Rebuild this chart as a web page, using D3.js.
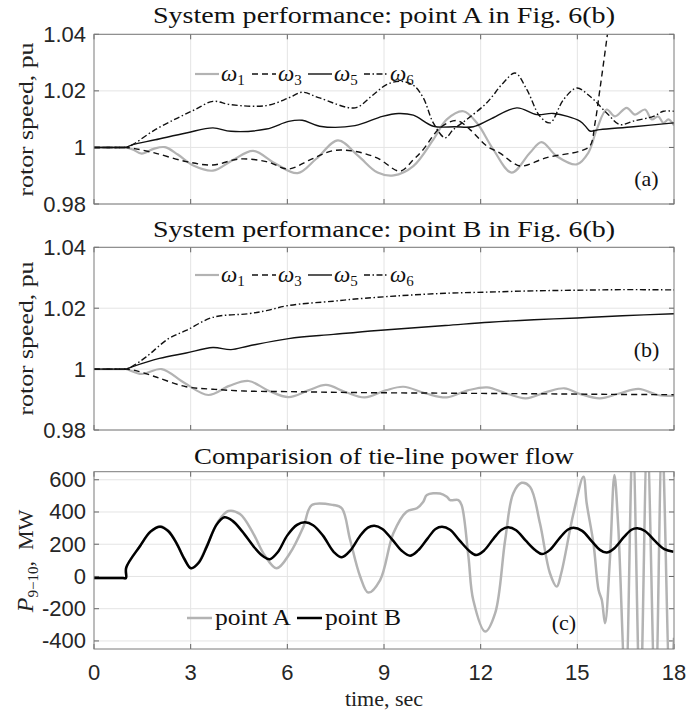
<!DOCTYPE html>
<html>
<head>
<meta charset="utf-8">
<script src="https://cdn.jsdelivr.net/npm/d3@7"></script>
<style>
  body { margin: 0; background: #fff; }
</style>
</head>
<body>
<div id="chart"></div>
<script>
// ---- data ----
const timeTicks = [0, 3, 6, 9, 12, 15, 18];
const speedTicks = [0.98, 1, 1.02, 1.04];
const speedTickLabels = ['0.98', '1', '1.02', '1.04'];
const powerTicks = [-400, -200, 0, 200, 400, 600];

// panel (a): point A, rotor speeds [t, pu]
const a_w1 = [[0,1],[0.9,1],[1,1],[1.2,0.9993],[1.48,0.9978],[1.85,0.9995],[2.2,1.0001],[2.6,0.9975],[3.1,0.9935],[3.69,0.9918],[4.3,0.9955],[4.94,0.9988],[5.6,0.9945],[6.32,0.9909],[6.9,0.996],[7.57,1.0025],[8.2,0.997],[8.8,0.9911],[9.3,0.9901],[9.91,0.9934],[10.53,1.0028],[10.95,1.0099],[11.46,1.0128],[11.88,1.0087],[12.39,0.9993],[12.96,0.9911],[13.53,0.9981],[13.89,1.0019],[14.36,0.9969],[14.98,0.994],[15.34,0.9981],[15.6,1.0063],[15.91,1.0134],[16.17,1.011],[16.53,1.014],[16.79,1.0116],[17.1,1.0134],[17.31,1.0099],[17.51,1.011],[17.67,1.0087],[17.83,1.0099],[18,1.0078]];
const a_w3 = [[0,1],[0.9,1],[1,1],[1.3,0.9995],[1.9,0.998],[2.86,0.995],[3.69,0.9938],[4.5,0.9959],[5.35,0.995],[6.04,0.9924],[6.7,0.9956],[7.43,0.9989],[8.1,0.9986],[8.8,0.9962],[9.5,0.9916],[9.9,0.9955],[10.22,0.9993],[10.74,1.0069],[11.26,1.0095],[11.67,1.0063],[12.19,1.0005],[12.6,0.998],[13.0,0.9946],[13.27,0.9934],[14.05,0.9964],[15.08,0.9987],[15.39,1.0005],[15.55,1.0087],[15.7,1.0205],[15.91,1.038],[16.05,1.05]];
const a_w5 = [[0,1],[0.9,1],[1,1],[1.2,1.001],[1.9,1.0027],[2.86,1.0051],[3.69,1.0069],[4.25,1.0057],[5.35,1.0065],[6.04,1.0092],[6.46,1.0096],[7.0,1.0075],[8.1,1.0077],[8.95,1.011],[9.45,1.012],[9.91,1.0114],[10.53,1.0075],[11.2,1.0073],[11.77,1.0073],[12.29,1.0099],[13.12,1.014],[13.74,1.0116],[14.26,1.012],[15.08,1.0093],[15.29,1.007],[15.39,1.0058],[15.7,1.0063],[16.74,1.0073],[18,1.0087]];
const a_w6 = [[0,1],[0.9,1],[1,1],[1.2,1.001],[1.9,1.0063],[2.59,1.0104],[3.14,1.0134],[3.69,1.0163],[4.25,1.0151],[5.35,1.0148],[6.04,1.0175],[6.46,1.0195],[7.0,1.0175],[8.1,1.014],[8.6,1.018],[9.08,1.0222],[9.5,1.0234],[9.91,1.022],[10.22,1.0175],[10.53,1.0087],[10.9,1.0034],[11.15,1.0063],[11.57,1.0099],[12.19,1.0158],[12.7,1.0228],[13.07,1.0263],[13.43,1.0205],[13.84,1.011],[14.15,1.0087],[14.57,1.0169],[14.98,1.021],[15.39,1.0181],[15.91,1.0122],[16.32,1.0081],[16.74,1.0093],[17.36,1.011],[17.67,1.0128],[18,1.0128]];

// panel (b): point B, rotor speeds [t, pu]
const b_w1 = [[0,1],[0.9,1],[1,1],[1.48,0.9984],[2.1,1.0],[2.8,0.9955],[3.55,0.9915],[4.2,0.9945],[4.8,0.9961],[5.4,0.993],[6.04,0.9908],[6.65,0.993],[7.2,0.9948],[7.8,0.9925],[8.4,0.9907],[9.05,0.993],[9.6,0.9942],[10.3,0.992],[10.95,0.9907],[11.6,0.993],[12.2,0.994],[12.8,0.992],[13.4,0.9904],[14.05,0.9925],[14.6,0.9937],[15.1,0.9918],[15.7,0.9904],[16.3,0.992],[16.9,0.9935],[17.5,0.9915],[18,0.9912]];
const b_w3 = [[0,1],[0.9,1],[1,1],[1.3,0.9995],[1.9,0.9975],[2.86,0.9942],[3.69,0.9934],[4.66,0.9928],[6.04,0.9926],[8.1,0.9923],[10.9,0.9921],[13.65,0.9919],[16,0.9917],[18,0.9916]];
const b_w5 = [[0,1],[0.9,1],[1,1],[1.2,1.0008],[2.03,1.0035],[2.86,1.0053],[3.69,1.0071],[4.25,1.0064],[4.8,1.0076],[6.04,1.01],[7.43,1.0114],[8.8,1.0127],[10.9,1.0143],[12.27,1.0154],[13.65,1.0162],[15.0,1.0168],[16.4,1.0175],[18,1.0182]];
const b_w6 = [[0,1],[0.9,1],[1,1],[1.2,1.001],[1.62,1.004],[2.31,1.01],[2.86,1.0127],[3.69,1.017],[4.8,1.0182],[5.35,1.0192],[6.04,1.0209],[7.43,1.0223],[8.1,1.023],[9.5,1.0241],[10.9,1.0249],[12.27,1.0253],[13.65,1.0257],[15.0,1.0259],[16.4,1.0261],[18,1.026]];

// panel (c): tie-line power flow [t, MW]
const c_pointA = [[0,-10],[0.9,-10],[0.99,-10],[1.0,55],[1.43,189],[1.75,275],[2.05,312],[2.3,285],[2.55,212],[2.8,112],[3.01,51],[3.25,90],[3.5,190],[3.85,340],[4.17,406],[4.53,387],[4.94,268],[5.3,130],[5.67,51],[6.08,144],[6.5,309],[6.76,443],[7.43,443],[7.69,423],[7.95,226],[8.26,0],[8.51,-100],[8.88,-22],[9.29,268],[9.7,402],[10.02,423],[10.22,464],[10.33,505],[10.74,515],[10.95,495],[11.05,474],[11.31,474],[11.41,443],[11.62,123],[11.77,-146],[12.14,-342],[12.45,-228],[12.76,226],[13.01,515],[13.27,581],[13.53,557],[13.84,330],[14.15,20],[14.36,-63],[14.5,20],[14.88,392],[15.19,619],[15.29,454],[15.5,206],[15.66,-84],[15.76,-146],[15.86,-290],[16.01,102],[16.15,629],[16.27,309],[16.5,-700],[16.72,850],[16.95,-800],[17.17,850],[17.42,-800],[17.63,850],[17.88,-700],[18,-380]];
const c_pointB = [[0,-10],[0.9,-10],[0.99,-10],[1.0,55],[1.43,189],[1.75,278],[2.05,309],[2.3,282],[2.55,210],[2.8,110],[3.01,51],[3.25,85],[3.5,185],[3.8,320],[4.05,367],[4.3,345],[4.6,280],[5.0,175],[5.25,125],[5.46,107],[5.7,150],[6.0,255],[6.3,320],[6.55,336],[6.8,318],[7.1,255],[7.45,150],[7.69,119],[7.95,160],[8.25,250],[8.5,303],[8.7,315],[8.95,295],[9.25,230],[9.55,160],[9.81,129],[10.05,160],[10.35,235],[10.6,295],[10.8,309],[11.05,290],[11.35,222],[11.65,158],[11.86,133],[12.1,160],[12.4,235],[12.65,290],[12.85,305],[13.1,287],[13.4,222],[13.7,162],[13.9,139],[14.15,165],[14.45,238],[14.7,290],[14.88,302],[15.15,283],[15.45,218],[15.7,165],[15.91,148],[16.15,175],[16.45,245],[16.68,290],[16.86,299],[17.1,282],[17.4,222],[17.7,170],[17.98,154]];

// ---- layout ----
const W = 697, H = 711;
const left = 94, right = 674;
const serif = "'Liberation Serif', 'DejaVu Serif', serif";
const sans = "'Liberation Sans', Arial, sans-serif";
const GRAY = '#b3b3b3';

const svg = d3.select('#chart').append('svg')
    .attr('width', W)
    .attr('height', H)
    .style('background', '#fff');

const x = d3.scaleLinear().domain([0, 18]).range([left, right]);

const styles = {
  w1: {stroke: GRAY, width: 2.2, dash: null},
  w3: {stroke: '#111', width: 1.4, dash: '6,4'},
  w5: {stroke: '#111', width: 1.4, dash: null},
  w6: {stroke: '#111', width: 1.4, dash: '6,2.5,1.5,2.5'},
  A:  {stroke: GRAY, width: 2.5, dash: null},
  B:  {stroke: '#000', width: 2.5, dash: null}
};

function drawPanel(cfg) {
  const y = d3.scaleLinear().domain(cfg.domain).range([cfg.bottom, cfg.top]);
  const g = svg.append('g');

  // clip
  svg.append('defs').append('clipPath').attr('id', 'clip-' + cfg.id)
    .append('rect')
    .attr('x', left).attr('y', cfg.top)
    .attr('width', right - left).attr('height', cfg.bottom - cfg.top);

  // grid
  g.selectAll('.vgrid').data(timeTicks.slice(1, -1)).enter().append('line')
    .attr('x1', d => x(d)).attr('x2', d => x(d))
    .attr('y1', cfg.top).attr('y2', cfg.bottom)
    .attr('stroke', '#e4e4e4').attr('stroke-width', 1);
  g.selectAll('.hgrid').data(cfg.ticks).enter().append('line')
    .attr('x1', left).attr('x2', right)
    .attr('y1', d => y(d)).attr('y2', d => y(d))
    .attr('stroke', '#e4e4e4').attr('stroke-width', 1);

  // inner ticks on all four sides
  const tk = 5;
  g.selectAll('.xt').data(timeTicks).enter().append('path')
    .attr('d', d => `M${x(d)},${cfg.bottom}v${-tk}M${x(d)},${cfg.top}v${tk}`)
    .attr('stroke', '#444').attr('stroke-width', 0.8);
  g.selectAll('.yt').data(cfg.ticks).enter().append('path')
    .attr('d', d => `M${left},${y(d)}h${tk}M${right},${y(d)}h${-tk}`)
    .attr('stroke', '#444').attr('stroke-width', 0.8);

  // y tick labels
  g.selectAll('.yl').data(cfg.ticks).enter().append('text')
    .attr('x', left - 8)
    .attr('y', d => y(d) + 7.5)
    .attr('text-anchor', 'end')
    .style('font-family', sans)
    .style('font-size', '22px')
    .style('fill', '#262626')
    .text((d, i) => cfg.tickLabels ? cfg.tickLabels[i] : d);

  // series
  const line = d3.line()
    .x(d => x(d[0]))
    .y(d => y(d[1]))
    .curve(d3.curveCatmullRom.alpha(0.5));
  const lines = g.append('g').attr('clip-path', `url(#clip-${cfg.id})`);
  cfg.series.forEach(s => {
    const st = styles[s.key];
    lines.append('path')
      .datum(s.data)
      .attr('d', line)
      .attr('fill', 'none')
      .attr('stroke', st.stroke)
      .attr('stroke-width', st.width)
      .attr('stroke-dasharray', st.dash)
      .attr('stroke-linejoin', 'round');
  });

  // frame
  g.append('rect')
    .attr('x', left).attr('y', cfg.top)
    .attr('width', right - left).attr('height', cfg.bottom - cfg.top)
    .attr('fill', 'none').attr('stroke', '#7a7a7a').attr('stroke-width', 1);

  // title
  g.append('text')
    .attr('x', (left + right) / 2)
    .attr('y', cfg.titleY)
    .attr('text-anchor', 'middle')
    .attr('textLength', cfg.titleLen)
    .attr('lengthAdjust', 'spacingAndGlyphs')
    .style('font-family', serif)
    .style('font-size', '23px')
    .style('fill', '#111')
    .text(cfg.title);

  // panel tag
  g.append('text')
    .attr('x', cfg.tag[0]).attr('y', cfg.tag[1])
    .attr('text-anchor', 'middle')
    .style('font-family', serif)
    .style('font-size', '22px')
    .style('fill', '#111')
    .text(cfg.tagText);

  return {g, y};
}

// ---- panel (a) ----
const pa = drawPanel({
  id: 'a', top: 34.3, bottom: 204, domain: [0.98, 1.04],
  ticks: speedTicks, tickLabels: speedTickLabels,
  title: 'System performance: point A in Fig. 6(b)', titleY: 23, titleLen: 462,
  tag: [646.5, 186], tagText: '(a)',
  series: [{key: 'w1', data: a_w1}, {key: 'w3', data: a_w3}, {key: 'w5', data: a_w5}, {key: 'w6', data: a_w6}]
});

// ---- panel (b) ----
const pb = drawPanel({
  id: 'b', top: 247.3, bottom: 430, domain: [0.98, 1.04],
  ticks: speedTicks, tickLabels: speedTickLabels,
  title: 'System performance: point B in Fig. 6(b)', titleY: 237, titleLen: 462,
  tag: [646.5, 357], tagText: '(b)',
  series: [{key: 'w1', data: b_w1}, {key: 'w3', data: b_w3}, {key: 'w5', data: b_w5}, {key: 'w6', data: b_w6}]
});

// ---- panel (c) ----
const pc = drawPanel({
  id: 'c', top: 471.7, bottom: 649, domain: [-450, 650],
  ticks: powerTicks,
  title: 'Comparision of tie-line power flow', titleY: 464, titleLen: 380,
  tag: [564, 630], tagText: '(c)',
  series: [{key: 'A', data: c_pointA}, {key: 'B', data: c_pointB}]
});

// x tick labels (bottom panel only)
svg.selectAll('.xl').data(timeTicks).enter().append('text')
  .attr('x', d => x(d))
  .attr('y', 680)
  .attr('text-anchor', 'middle')
  .style('font-family', sans)
  .style('font-size', '22px')
  .style('fill', '#262626')
  .text(d => d);

svg.append('text')
  .attr('x', (left + right) / 2).attr('y', 706)
  .attr('text-anchor', 'middle')
  .style('font-family', serif).style('font-size', '22px').style('fill', '#222')
  .text('time, sec');

// y axis labels
function yLabel(cy, txt, len) {
  svg.append('text')
    .attr('transform', `translate(33,${cy}) rotate(-90)`)
    .attr('text-anchor', 'middle')
    .attr('textLength', len)
    .attr('lengthAdjust', 'spacingAndGlyphs')
    .style('font-family', serif).style('font-size', '22px').style('fill', '#222')
    .text(txt);
}
yLabel(119.5, 'rotor speed, pu', 154);
yLabel(338.5, 'rotor speed, pu', 154);

const pl = svg.append('text')
  .attr('transform', 'translate(33,561) rotate(-90)')
  .attr('text-anchor', 'middle')
  .style('font-family', serif).style('font-size', '22px').style('fill', '#222');
pl.append('tspan').style('font-style', 'italic').style('font-size', '24px').text('P');
pl.append('tspan').attr('dy', 5).style('font-size', '15px').text('9\u221210');
pl.append('tspan').attr('dy', -5).text(',\u2002MW');

// ---- legends ----
const omegaLegend = [
  {key: 'w1', sub: '1'}, {key: 'w3', sub: '3'}, {key: 'w5', sub: '5'}, {key: 'w6', sub: '6'}
];
const legX = [195, 252, 308, 364];

function speedLegend(ly) {
  omegaLegend.forEach((d, i) => {
    const st = styles[d.key];
    svg.append('line')
      .attr('x1', legX[i]).attr('x2', legX[i] + 24)
      .attr('y1', ly).attr('y2', ly)
      .attr('stroke', st.stroke).attr('stroke-width', st.width)
      .attr('stroke-dasharray', st.dash);
    const t = svg.append('text')
      .attr('x', legX[i] + 26).attr('y', ly + 7)
      .style('font-family', serif).style('font-size', '23px').style('fill', '#111');
    t.append('tspan').style('font-style', 'italic').text('\u03c9');
    t.append('tspan').attr('dy', 4).style('font-size', '15px').text(d.sub);
  });
}
speedLegend(74);
speedLegend(275);

const pLegend = [{key: 'A', label: 'point A', x0: 187}, {key: 'B', label: 'point B', x0: 297}];
pLegend.forEach(d => {
  const st = styles[d.key];
  svg.append('line')
    .attr('x1', d.x0).attr('x2', d.x0 + 25)
    .attr('y1', 618).attr('y2', 618)
    .attr('stroke', st.stroke).attr('stroke-width', st.width);
  svg.append('text')
    .attr('x', d.x0 + 28).attr('y', 625)
    .attr('textLength', 76)
    .attr('lengthAdjust', 'spacingAndGlyphs')
    .style('font-family', serif).style('font-size', '23px').style('fill', '#111')
    .text(d.label);
});
</script>
</body>
</html>
